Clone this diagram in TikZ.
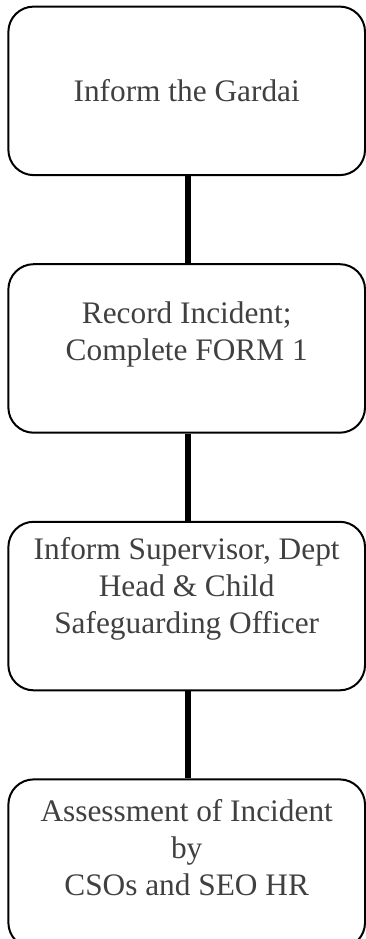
\documentclass[tikz,border=0pt]{standalone}
\usepackage{fontspec}
\setmainfont{Liberation Serif}
\usetikzlibrary{positioning}

\definecolor{boxtext}{RGB}{64,64,64}

\tikzset{
  stepbox/.style={draw=black, line width=1.5pt, rounded corners=19pt,
    minimum width=267.5pt, minimum height=126.4pt, inner sep=0pt},
  steptext/.style={inner sep=0pt, align=center, text=boxtext,
    font=\fontsize{23.5pt}{27.75pt}\selectfont},
  link/.style={line width=4.3pt, draw=black}
}

\begin{document}
\begin{tikzpicture}[x=0.75pt,y=0.75pt,yscale=-1,xscale=1,node distance=65.3pt]
\useasboundingbox (0,0) rectangle (366,939);

% boxes
\node[stepbox] (gardai) at (186.7,90.85) {};
\node[stepbox, below=of gardai] (record) {};
\node[stepbox, below=of record] (inform) {};
\node[stepbox, below=of inform] (assess) {};

% texts
\node[steptext, below=55.2pt of gardai.north] (tgardai) {Inform the Gardai};
\node[steptext, below=28.95pt of record.north] (trecord) {Record Incident;\\Complete FORM 1};
\node[steptext, below=12.45pt of inform.north] (tinform) {Inform Supervisor, Dept\\Head \& Child\\Safeguarding Officer};
\node[steptext, below=15.45pt of assess.north] (tassess) {Assessment of Incident\\by\\CSOs and SEO HR};

% connectors
\draw[link] ([xshift=1.2pt]gardai.south) -- ([xshift=1.2pt]record.north);
\draw[link] ([xshift=1.2pt]record.south) -- ([xshift=1.2pt]inform.north);
\draw[link] ([xshift=1.2pt]inform.south) -- ([xshift=1.2pt]assess.north);
\end{tikzpicture}
\end{document}
